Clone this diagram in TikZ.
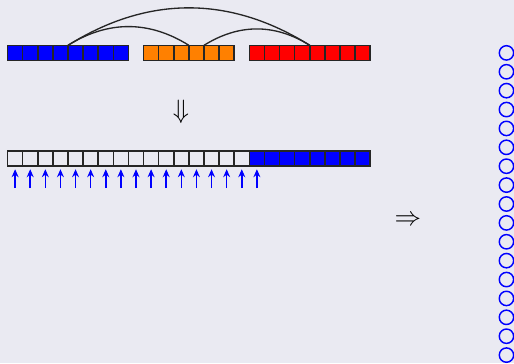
\documentclass[tikz,border=0pt]{standalone}
\usetikzlibrary{arrows.meta}
\definecolor{bg}{HTML}{EAEAF2}
\begin{document}
\begin{tikzpicture}[
  cell/.style={draw=black!85, minimum size=0.2cm, inner sep=0pt, outer sep=0pt, line width=0.55pt},
  arcline/.style={draw=black!85, line width=0.5pt},
  uparr/.style={draw=blue, line width=0.55pt, -{Stealth[length=3pt,width=2.6pt]}},
  ring/.style={draw=blue, circle, minimum size=0.19cm, inner sep=0pt, line width=0.55pt}
]
\fill[bg] (0,0) rectangle (6.803,-4.805);
\useasboundingbox (0,0) rectangle (6.803,-4.805);
% top row
\foreach \i in {0,...,7} \node[cell, fill=blue] (a\i) at (0.2+0.2*\i,-0.7) {};
\foreach \i in {9,...,14} \node[cell, fill=orange] (a\i) at (0.2+0.2*\i,-0.7) {};
\foreach \i in {16,...,23} \node[cell, fill=red] (a\i) at (0.2+0.2*\i,-0.7) {};
% arcs
\draw[arcline] (a4.north west) to[bend left=32] (a12.north west);
\draw[arcline] (a4.north west) to[bend left=32] (a20.north west);
\draw[arcline] (a13.north west) to[bend left=32] (a20.north west);
% down arrow
\node (down) at (2.396,-1.483) {$\Downarrow$};
% bottom row
\foreach \i in {0,...,15} \node[cell] (b\i) at (0.2+0.2*\i,-2.1) {};
\foreach \i in {16,...,23} \node[cell, fill=blue] (b\i) at (0.2+0.2*\i,-2.1) {};
\foreach \i in {0,...,16} \draw[uparr, shorten >=0.04cm] ([yshift=-0.29cm]b\i.south) -- (b\i.south);
% implies
\node (imp) at (5.40,-2.915) {$\Rightarrow$};
% circles
\foreach \k in {0,...,16} \node[ring] (c\k) at (6.703,-0.7-0.25*\k) {};
\end{tikzpicture}
\end{document}
